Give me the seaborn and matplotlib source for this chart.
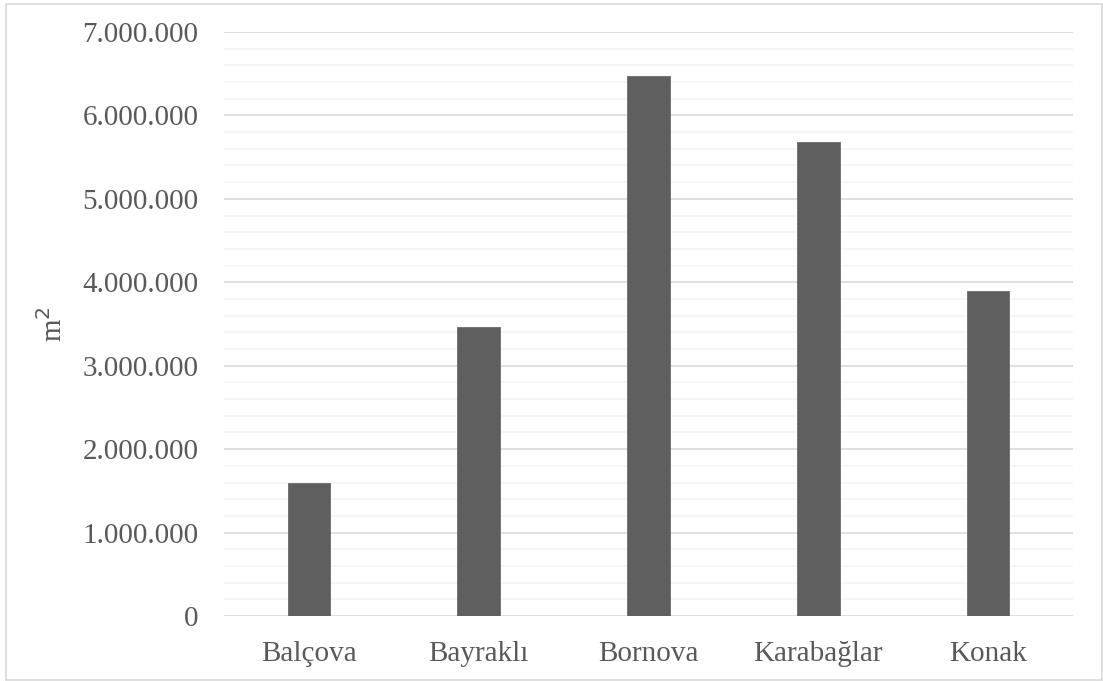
import matplotlib
matplotlib.use("Agg")
import matplotlib.pyplot as plt
import matplotlib.ticker as mticker
from matplotlib.patches import Rectangle
import seaborn as sns
import pandas as pd

districts = ["Balçova", "Bayraklı", "Bornova", "Karabağlar", "Konak"]
areas_m2 = [1600000, 3470000, 6470000, 5680000, 3890000]

df = pd.DataFrame({"district": districts, "area": areas_m2})

sns.set_theme(style="white")
plt.rcParams["font.family"] = ["Liberation Serif", "DejaVu Serif"]

fig = plt.figure(figsize=(11.03, 6.81), dpi=100)
ax = fig.add_axes([224 / 1103, 1 - 616 / 681, (1073 - 224) / 1103, (616 - 32) / 681])

sns.barplot(data=df, x="district", y="area", color="#5f5f5f", saturation=1,
            width=0.25, ax=ax, edgecolor="#6a6a6a", linewidth=0.6, zorder=3)

ax.set_ylim(0, 7000000)
ax.set_xlim(-0.5, len(districts) - 0.5)
ax.yaxis.set_major_locator(mticker.MultipleLocator(1000000))
ax.yaxis.set_minor_locator(mticker.MultipleLocator(200000))
ax.yaxis.set_major_formatter(mticker.FuncFormatter(lambda v, p: f"{int(round(v)):,}".replace(",", ".")))

ax.grid(which="minor", axis="y", color="#f2f2f2", linewidth=1.1, zorder=0)
ax.grid(which="major", axis="y", color="#d9d9d9", linewidth=1.2, zorder=1)
ax.set_axisbelow(True)
for s in ["top", "right", "left", "bottom"]:
    ax.spines[s].set_visible(False)

ax.tick_params(axis="y", which="both", length=0, pad=18.5, labelsize=21, labelcolor="#595959")
ax.tick_params(axis="x", length=0, pad=18, labelsize=21, labelcolor="#595959")
ax.set_xlabel("")
ax.set_ylabel("m$^2$", fontsize=21, color="#595959", labelpad=10)

fig.patches.append(Rectangle((6 / 1103, 1 / 681), (1101.5 - 6) / 1103, (680 - 4) / 681,
                             transform=fig.transFigure, fill=False,
                             edgecolor="#d9d9d9", linewidth=1.2))

fig.savefig("out.png", dpi=100)
